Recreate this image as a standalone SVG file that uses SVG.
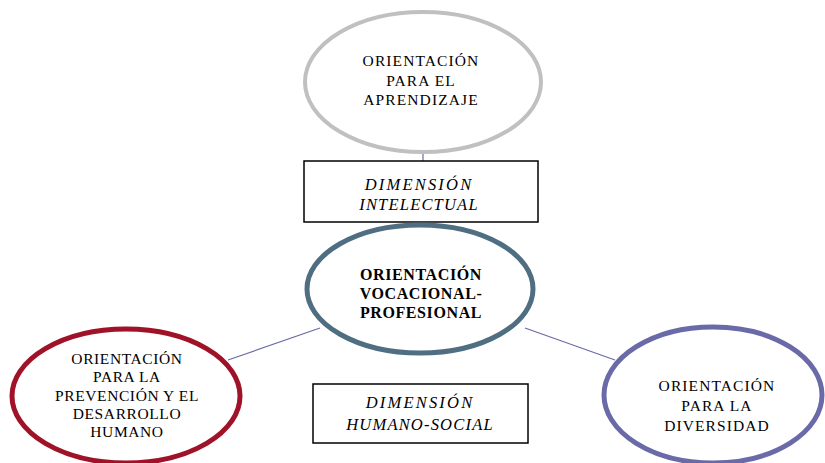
<svg xmlns="http://www.w3.org/2000/svg" width="825" height="463" viewBox="0 0 825 463">
<style>
.t{font-family:"Liberation Serif","Times New Roman",serif;font-size:15.5px;fill:#000;text-anchor:middle;letter-spacing:0.6px}
.w{letter-spacing:1.1px}
.b{font-weight:bold;font-size:16px}
.i{font-style:italic;font-size:16.5px;letter-spacing:1.2px}
.i.s{letter-spacing:2.2px}
.e{fill:#fff}
.r{fill:#fff;stroke:#000;stroke-width:1.5}
.c{stroke:#6b6ba8;stroke-width:1.2;fill:none}
</style>
<rect width="825" height="463" fill="#fff"/>
<g id="connectors">
<line class="c" x1="423" y1="152" x2="423" y2="161"/>
<line class="c" x1="228" y1="360" x2="320" y2="328"/>
<line class="c" x1="525" y1="328" x2="615" y2="360"/>
</g>
<g id="n-aprendizaje">
<ellipse class="e" cx="423" cy="82" rx="118" ry="70" stroke="#c0c0c0" stroke-width="4"/>
<text class="t w" x="421" y="66">ORIENTACIÓN</text>
<text class="t w" x="421" y="86">PARA EL</text>
<text class="t w" x="421" y="105">APRENDIZAJE</text>
</g>
<g id="n-intelectual">
<rect class="r" x="304" y="161" width="234" height="61"/>
<text class="t i s" x="419" y="190">DIMENSIÓN</text>
<text class="t i" x="419" y="210">INTELECTUAL</text>
</g>
<g id="n-vocacional">
<ellipse class="e" cx="420" cy="289" rx="113" ry="64" stroke="#4f6e82" stroke-width="5"/>
<text class="t b" x="421" y="280">ORIENTACIÓN</text>
<text class="t b" x="421" y="299">VOCACIONAL-</text>
<text class="t b" x="421" y="318">PROFESIONAL</text>
</g>
<g id="n-prevencion">
<ellipse class="e" cx="126" cy="396" rx="114" ry="67" stroke="#a01228" stroke-width="5"/>
<text class="t" x="127" y="364">ORIENTACIÓN</text>
<text class="t" x="127" y="382">PARA LA</text>
<text class="t" x="127" y="401">PREVENCIÓN Y EL</text>
<text class="t" x="127" y="419">DESARROLLO</text>
<text class="t" x="127" y="437">HUMANO</text>
</g>
<g id="n-humanosocial">
<rect class="r" x="313" y="384" width="215" height="59"/>
<text class="t i s" x="420" y="408">DIMENSIÓN</text>
<text class="t i" x="420" y="430">HUMANO-SOCIAL</text>
</g>
<g id="n-diversidad">
<ellipse class="e" cx="713" cy="395" rx="109" ry="68" stroke="#6a6aa8" stroke-width="5"/>
<text class="t w" x="717" y="391">ORIENTACIÓN</text>
<text class="t w" x="717" y="411">PARA LA</text>
<text class="t w" x="717" y="431">DIVERSIDAD</text>
</g>
</svg>
